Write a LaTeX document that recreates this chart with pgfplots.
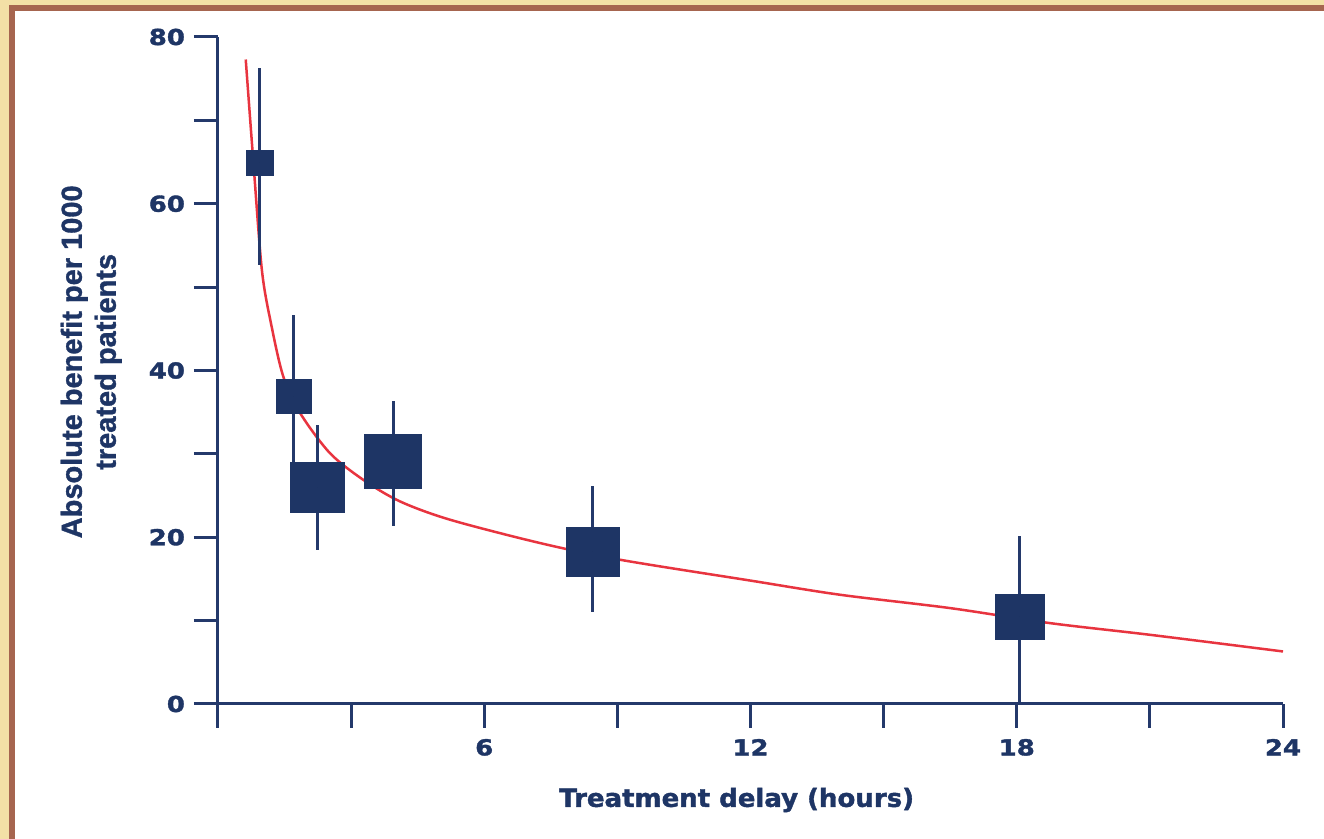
\documentclass[border=0pt]{standalone}
\usepackage{pgfplots}
\pgfplotsset{compat=1.18}
\usepackage{fontspec}
\setmainfont{DejaVu Sans}
\newfontfamily\extfont[FakeStretch=1.18, BoldFeatures={FakeBold=1.6}]{DejaVu Sans}
\newfontfamily\extlabfont[FakeStretch=1.04, BoldFeatures={FakeBold=1.6}]{DejaVu Sans}
\newfontfamily\arialb[BoldFeatures={FakeBold=1.2}]{Liberation Sans}
\definecolor{navy}{HTML}{1E3565}
\definecolor{axisnavy}{HTML}{24396B}
\definecolor{redc}{HTML}{E8343F}
\definecolor{beige}{HTML}{F3E0A6}
\definecolor{brownb}{HTML}{A6654F}

\pgfplotstableread{
x     y     ep    em    w     h
0.935 64.9  11.4  12.25 6.75  6.25
1.70  36.9  9.76  8.9   8.75  8.5
2.24  26.0  7.46  7.53  13.25 12.5
3.95  29.1  7.2   7.8   14.25 13.5
8.44  18.3  7.8   7.3   13.25 12.25
18.06 10.5  9.7   10.5  12.25 11.25
}\pts

\begin{document}
\begin{tikzpicture}
\useasboundingbox (0,0) rectangle (662pt,419.5pt);
\fill[beige] (0,0) rectangle (662pt,419.5pt);
\fill[brownb] (4.5pt,0) rectangle (662pt,417pt);
\fill[white] (7.5pt,0) rectangle (662pt,414pt);
\begin{axis}[
  at={(109pt,67.5pt)}, anchor=south west,
  scale only axis, width=532.5pt, height=333.5pt,
  xmin=0, xmax=24, ymin=0, ymax=80,
  axis lines=left,
  axis line style={-, axisnavy, line width=1.5pt},
  clip=false,
  xtick={0,3,...,24}, xticklabels={,,6,,12,,18,,24},
  ytick={0,10,...,80}, yticklabels={0,,20,,40,,60,,80},
  tick align=outside, major tick length=12pt,
  tick style={axisnavy, line width=1.5pt},
  ticklabel style={font=\extfont\bfseries\fontsize{11}{12}\selectfont, text=navy},
  xticklabel style={yshift=-2pt},
  yticklabel style={xshift=-1pt},
  xlabel={Treatment delay (hours)},
  xlabel style={font=\extlabfont\bfseries\fontsize{12.5}{14}\selectfont, text=navy,
    at={(axis description cs:0.487,-0.144)}, anchor=center},
  ylabel={Absolute benefit per 1000\\treated patients},
  ylabel style={font=\arialb\bfseries\fontsize{14.5}{17}\selectfont, text=navy, align=center,
    at={(axis description cs:-0.119,0.513)}, anchor=center},
]
\addplot[redc, line width=1.25pt, smooth, tension=0.5] coordinates {
(0.625,77.3) (0.8,64.8) (0.99,52) (1.2,45.5) (1.47,39.3) (1.85,34.9)
(2.52,30.1) (3.27,26.9) (4.1,24.3) (5.23,22.1) (7.26,19.3) (9.06,17.3)
(12,14.8) (14.02,13.1) (16.5,11.5) (18.75,9.7) (21,8.3) (24,6.3)
};
\addplot[navy, draw=none, mark=none,
  error bars/.cd, y dir=both, y explicit, error mark=none,
  error bar style={line width=1.5pt, axisnavy}]
  table[x=x, y=y, y error plus=ep, y error minus=em] {\pts};
\addplot[scatter, only marks, mark=square*, mark size=0pt,
  mark options={draw=none, fill=none},
  visualization depends on={\thisrow{w} \as \mw},
  visualization depends on={\thisrow{h} \as \mh},
  scatter/@pre marker code/.code={\fill[navy] (-\mw pt,-\mh pt) rectangle (\mw pt,\mh pt);},
  scatter/@post marker code/.code={}]
  table[x=x, y=y] {\pts};
\end{axis}
\end{tikzpicture}
\end{document}
